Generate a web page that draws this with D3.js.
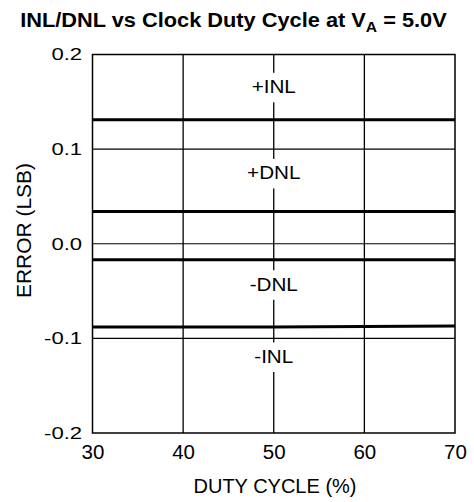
<!DOCTYPE html>
<html><head><meta charset="utf-8">
<script src="https://cdn.jsdelivr.net/npm/d3@7"></script>
<style>body{margin:0;background:#fff}svg{display:block}text{font-family:"Liberation Sans",Arial,sans-serif}</style>
</head><body><svg id="c" width="474" height="502"></svg>
<script>
const duty = [30, 40, 50, 60, 70];
const seriesNames = ["+INL", "+DNL", "-DNL", "-INL"];
const plusINL = [0.131, 0.131, 0.131, 0.131, 0.131];
const plusDNL = [0.034, 0.034, 0.034, 0.034, 0.034];
const minusDNL = [-0.017, -0.017, -0.017, -0.017, -0.017];
const minusINL = [-0.088, -0.088, -0.088, -0.0875, -0.087];
const labelValues = [0.159, 0.068, -0.0497, -0.126];
const labelDuty = [50, 50, 50, 50];
const xTicks = [30, 40, 50, 60, 70];
const yTicks = [-0.2, -0.1, 0.0, 0.1, 0.2];

const series = [plusINL, plusDNL, minusDNL, minusINL];
const svg = d3.select("#c");
const L = 92.5, R = 455, T = 54.5, B = 433;
const x = d3.scaleLinear().domain([30, 70]).range([L, R]);
const y = d3.scaleLinear().domain([-0.2, 0.2]).range([B, T]);
const FONT = '"Liberation Sans",Arial,sans-serif';

// grid
svg.append("g").selectAll("line").data(xTicks.slice(1, -1)).join("line")
  .attr("x1", d => x(d)).attr("x2", d => x(d)).attr("y1", T).attr("y2", B)
  .attr("stroke", "#000").attr("stroke-width", 1.3);
svg.append("g").selectAll("line").data(yTicks.slice(1, -1)).join("line")
  .attr("x1", L).attr("x2", R).attr("y1", d => y(d)).attr("y2", d => y(d))
  .attr("stroke", "#000").attr("stroke-width", 1.2);

// labels with white backgrounds (break the 50% gridline)
const lg = svg.append("g");
seriesNames.forEach((name, i) => {
  const cx = x(labelDuty[i]), by = y(labelValues[i]);
  const g = lg.append("g").attr("transform", `translate(${cx},${by}) scale(1.18,1)`);
  const t = g.append("text").attr("x", 0).attr("y", 0)
    .attr("text-anchor", "middle").attr("font-size", 17.5).text(name);
  const bb = t.node().getBBox();
  g.insert("rect", "text").attr("x", bb.x - 2).attr("y", -12.5 - 8)
    .attr("width", bb.width + 4).attr("height", 12.5 + 8 + 9).attr("fill", "#fff");
});

// series lines
const line = d3.line().x((d, i) => x(duty[i])).y(d => y(d));
svg.append("g").selectAll("path").data(series).join("path")
  .attr("d", line).attr("fill", "none").attr("stroke", "#000").attr("stroke-width", 3);

// frame
svg.append("rect").attr("x", L).attr("y", T).attr("width", R - L).attr("height", B - T)
  .attr("fill", "none").attr("stroke", "#000").attr("stroke-width", 1.5);

// axes
const xAxis = d3.axisBottom(x).tickValues(xTicks).tickSize(0).tickPadding(11).tickFormat(d3.format("d"));
const gx = svg.append("g").attr("transform", `translate(0,${B})`).call(xAxis);
gx.select(".domain").remove();
gx.selectAll("text").attr("font-size", 20.5).attr("fill", "#000").attr("font-family", FONT);

const yAxis = d3.axisLeft(y).tickValues(yTicks).tickSize(0).tickPadding(8).tickFormat(d3.format(".1f"));
const gy = svg.append("g").attr("transform", `translate(${L},0)`).call(yAxis);
gy.select(".domain").remove();
gy.selectAll("text").attr("font-size", 17).attr("fill", "#000").attr("font-family", FONT)
  .attr("transform", "scale(1.3,1)")
  .text(d => d3.format(".1f")(d).replace("\u2212", "-"));

svg.append("text").attr("x", 275).attr("y", 493).attr("text-anchor", "middle")
  .attr("font-size", 20).text("DUTY CYCLE (%)");
const yl = svg.append("text").attr("transform", `translate(31,230.5) rotate(-90)`).attr("text-anchor", "middle")
  .attr("font-size", 19.5).text("ERROR (LSB)");
yl.attr("textLength", 135).attr("lengthAdjust", "spacingAndGlyphs");

// title
const tg = svg.append("g");
const title = tg.append("text").attr("x", 0).attr("y", 0).attr("text-anchor", "middle")
  .attr("font-size", 19.5).attr("font-weight", "bold");
title.append("tspan").text("INL/DNL vs Clock Duty Cycle at V");
title.append("tspan").attr("font-size", 14).attr("dy", 5).text("A");
title.append("tspan").attr("dy", -5).text(" = 5.0V");
const tw = title.node().getBBox().width;
tg.attr("transform", `translate(233.5,27) scale(${427 / tw},1)`);
</script></body></html>
